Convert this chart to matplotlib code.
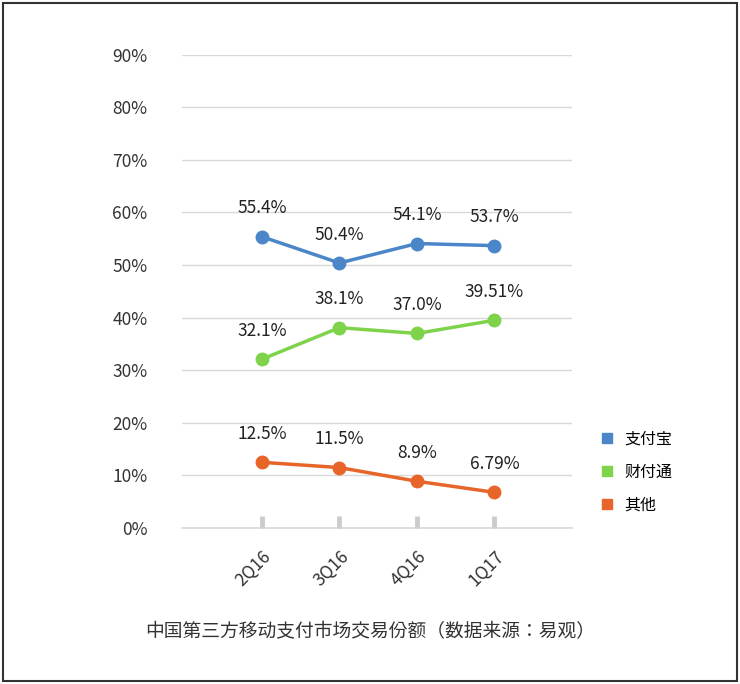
import matplotlib.pyplot as plt
from matplotlib.patches import Rectangle

plt.rcParams["font.family"] = ["Noto Sans CJK SC", "Noto Sans CJK JP", "Noto Sans CJK TC",
                               "Noto Sans CJK KR", "DejaVu Sans"]

quarters = ["2Q16", "3Q16", "4Q16", "1Q17"]
alipay = [55.4, 50.4, 54.1, 53.7]
tenpay = [32.1, 38.1, 37.0, 39.51]
others = [12.5, 11.5, 8.9, 6.79]
alipay_labels = ["55.4%", "50.4%", "54.1%", "53.7%"]
tenpay_labels = ["32.1%", "38.1%", "37.0%", "39.51%"]
others_labels = ["12.5%", "11.5%", "8.9%", "6.79%"]
series_names = ["支付宝", "财付通", "其他"]
colors = ["#4a86c8", "#7fd34a", "#e8652a"]

fig = plt.figure(figsize=(7.4, 6.84), dpi=100)
fig.patches.append(Rectangle((0.004, 0.004), 0.992, 0.992, transform=fig.transFigure,
                             fill=False, edgecolor="#333333", linewidth=1.5))
ax = fig.add_axes([0.246, 0.228, 0.527, 0.692])

x = range(len(quarters))
for vals, labs, name, c in zip([alipay, tenpay, others],
                               [alipay_labels, tenpay_labels, others_labels],
                               series_names, colors):
    ax.plot(x, vals, color=c, linewidth=2.5, marker="o", markersize=9, label=name)
    for xi, v, lab in zip(x, vals, labs):
        ax.annotate(lab, (xi, v), xytext=(0, 14), textcoords="offset points",
                    ha="center", va="bottom", fontsize=12.5, color="#222222")

ax.set_xlim(-1.03, 4)
ax.set_ylim(0, 90)
ax.set_yticks(range(0, 91, 10))
ax.set_yticklabels([f"{v}%" for v in range(0, 91, 10)], fontsize=12.5, color="#333333")
ax.set_xticks(list(x))
ax.set_xticklabels(quarters, rotation=45, ha="right", rotation_mode="anchor",
                   fontsize=12.5, color="#333333")
ax.tick_params(axis="y", length=0, pad=25)
ax.tick_params(axis="x", direction="in", length=9, width=3.5, color="#cccccc", pad=14)
ax.grid(axis="y", color="#d9d9d9", linewidth=1)
ax.axhline(0, color="#d9d9d9", linewidth=1.2, clip_on=False, zorder=0)
ax.set_axisbelow(True)
for s in ax.spines.values():
    s.set_visible(False)

ax.legend(loc="lower left", bbox_to_anchor=(1.04, 0.0), frameon=False,
          fontsize=11.5, handlelength=0.6, handleheight=0.6, labelspacing=1.0)
leg = ax.get_legend()
for h in leg.legend_handles:
    h.set_linestyle("None")
    h.set_marker("s")
    h.set_markersize(7)

fig.text(0.5, 0.068, "中国第三方移动支付市场交易份额（数据来源：易观）",
         ha="center", fontsize=13.5, color="#333333")

fig.savefig("out.png", dpi=100)
